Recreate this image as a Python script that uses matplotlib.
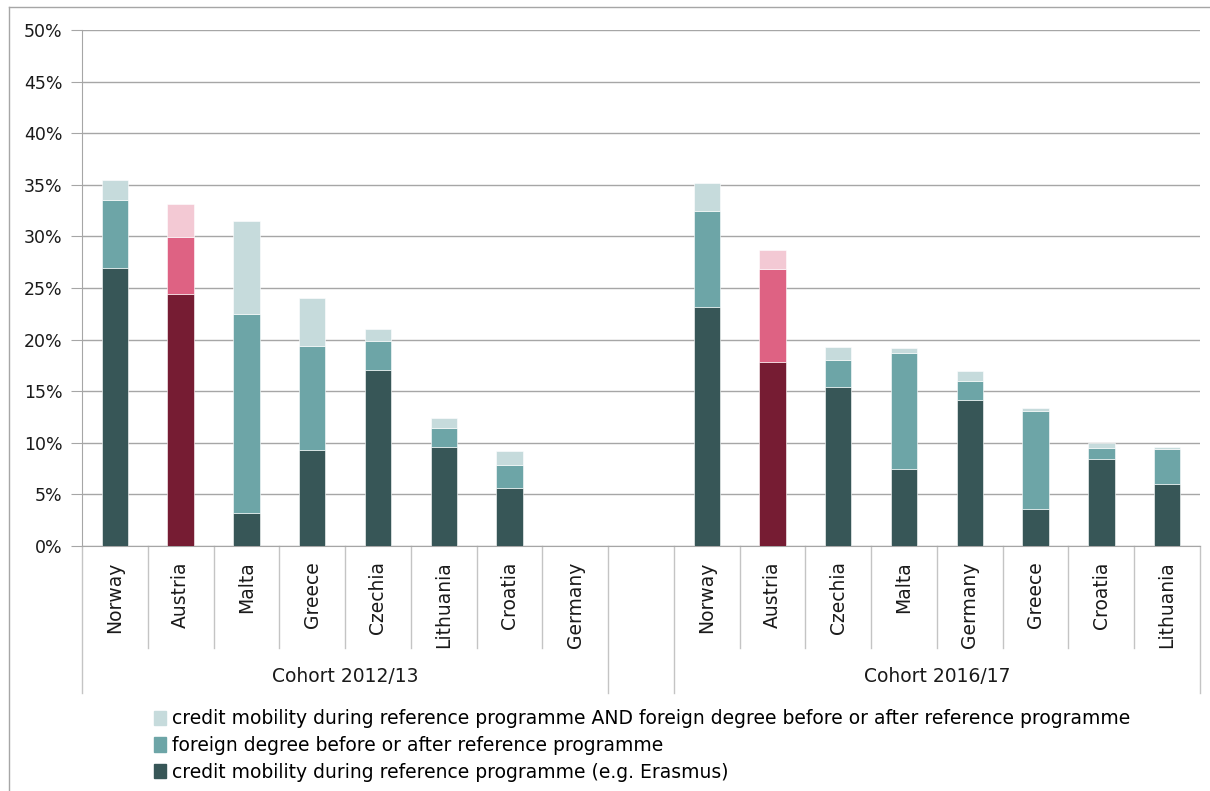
import numpy as np
import matplotlib
matplotlib.use("Agg")
import matplotlib.pyplot as plt
import matplotlib.patches as mpatches
import matplotlib.transforms as mtransforms
from matplotlib.lines import Line2D

# --------------------------------------------------
# Data (percent of graduates)
# --------------------------------------------------

cohorts = ["Cohort 2012/13", "Cohort 2016/17"]

countries_1213 = ["Norway", "Austria", "Malta", "Greece", "Czechia", "Lithuania", "Croatia", "Germany"]
credit_1213 = [26.9, 24.4, 3.2, 9.3, 17.1, 9.55, 5.6, 0.0]
degree_1213 = [6.6, 5.5, 19.3, 10.1, 2.8, 1.85, 2.25, 0.0]
both_1213 = [1.95, 3.25, 9.0, 4.6, 1.15, 1.0, 1.35, 0.0]

countries_1617 = ["Norway", "Austria", "Czechia", "Malta", "Germany", "Greece", "Croatia", "Lithuania"]
credit_1617 = [23.2, 17.8, 15.45, 7.45, 14.15, 3.55, 8.45, 6.0]
degree_1617 = [9.3, 9.05, 2.55, 11.3, 1.85, 9.55, 1.0, 3.4]
both_1617 = [2.7, 1.85, 1.3, 0.45, 1.0, 0.25, 0.5, 0.2]

legend_labels = [
    "credit mobility during reference programme AND foreign degree before or after reference programme",
    "foreign degree before or after reference programme",
    "credit mobility during reference programme (e.g. Erasmus)",
]

highlight = "Austria"

# colours: dark / mid / light
teal = ["#375657", "#6da5a7", "#c6dbdc"]
rose = ["#761c33", "#de6283", "#f3c9d4"]

# --------------------------------------------------
# Figure
# --------------------------------------------------

W, H = 1210, 791
fig = plt.figure(figsize=(W / 100, H / 100), dpi=100)
ax = fig.add_axes([82 / W, 1 - 546 / H, (1200 - 82) / W, (546 - 30) / H])

n1 = len(countries_1213)
pos1 = np.arange(n1)
pos2 = np.arange(len(countries_1617)) + n1 + 1

grid_c = "#a6a6a6"
sep_c = "#c4c4c4"
bw = 0.4

for pos, names, cr, dg, bt in [
    (pos1, countries_1213, credit_1213, degree_1213, both_1213),
    (pos2, countries_1617, credit_1617, degree_1617, both_1617),
]:
    cr = np.array(cr)
    dg = np.array(dg)
    bt = np.array(bt)
    pal = [rose if c == highlight else teal for c in names]
    ax.bar(pos, cr, bw, color=[p[0] for p in pal], edgecolor="white", linewidth=0.4, zorder=3)
    ax.bar(pos, dg, bw, bottom=cr, color=[p[1] for p in pal], edgecolor="white", linewidth=0.4, zorder=3)
    ax.bar(pos, bt, bw, bottom=cr + dg, color=[p[2] for p in pal], edgecolor="white", linewidth=0.4, zorder=3)

# --------------------------------------------------
# Axes styling
# --------------------------------------------------

ax.set_xlim(-0.5, pos2[-1] + 0.5)
ax.set_ylim(0, 50)
ax.set_yticks(np.arange(0, 51, 5))
ax.set_yticklabels([f"{v}%" for v in range(0, 51, 5)], fontsize=12.5, color="#1a1a1a")
ax.yaxis.grid(True, color=grid_c, linewidth=1, zorder=0)
ax.tick_params(axis="y", length=8, color=grid_c, pad=6)

ax.set_xticks(np.concatenate([pos1, pos2]))
ax.set_xticklabels(countries_1213 + countries_1617, rotation=90, fontsize=13.5, color="#1a1a1a")
ax.tick_params(axis="x", length=0, pad=11)

for s in ["top", "right"]:
    ax.spines[s].set_visible(False)
ax.spines["left"].set_color(grid_c)
ax.spines["bottom"].set_color(grid_c)

# category separators below the axis
trans = mtransforms.blended_transform_factory(ax.transData, ax.transAxes)
short_y = -102 / 516
long_y = -147 / 516
for grp in [pos1, pos2]:
    for b in grp[1:] - 0.5:
        ax.add_line(Line2D([b, b], [0, short_y], transform=trans, color=sep_c, lw=1, clip_on=False))
for b in [pos1[0] - 0.5, pos1[-1] + 0.5, pos2[0] - 0.5, pos2[-1] + 0.5]:
    ax.add_line(Line2D([b, b], [0, long_y], transform=trans, color=sep_c, lw=1, clip_on=False))

# cohort labels
for grp, name in zip([pos1, pos2], cohorts):
    ax.text(grp.mean(), -131 / 516, name, transform=trans, ha="center", va="center",
            fontsize=13.5, color="#1a1a1a")

# --------------------------------------------------
# Legend
# --------------------------------------------------

handles = [mpatches.Patch(color=c) for c in [teal[2], teal[1], teal[0]]]
fig.legend(handles, legend_labels, loc="upper left", bbox_to_anchor=(146 / W, 1 - 702 / H),
           frameon=False, fontsize=13.5, handlelength=0.65, handleheight=0.8,
           handletextpad=0.35, labelspacing=0.4, borderaxespad=0)

# chart frame
fig.add_artist(Line2D([9 / W, 9 / W], [0, 1 - 7 / H], color="#a6a6a6", lw=1))
fig.add_artist(Line2D([9 / W, 1], [1 - 7 / H, 1 - 7 / H], color="#a6a6a6", lw=1))

fig.savefig("out.png", dpi=100)
